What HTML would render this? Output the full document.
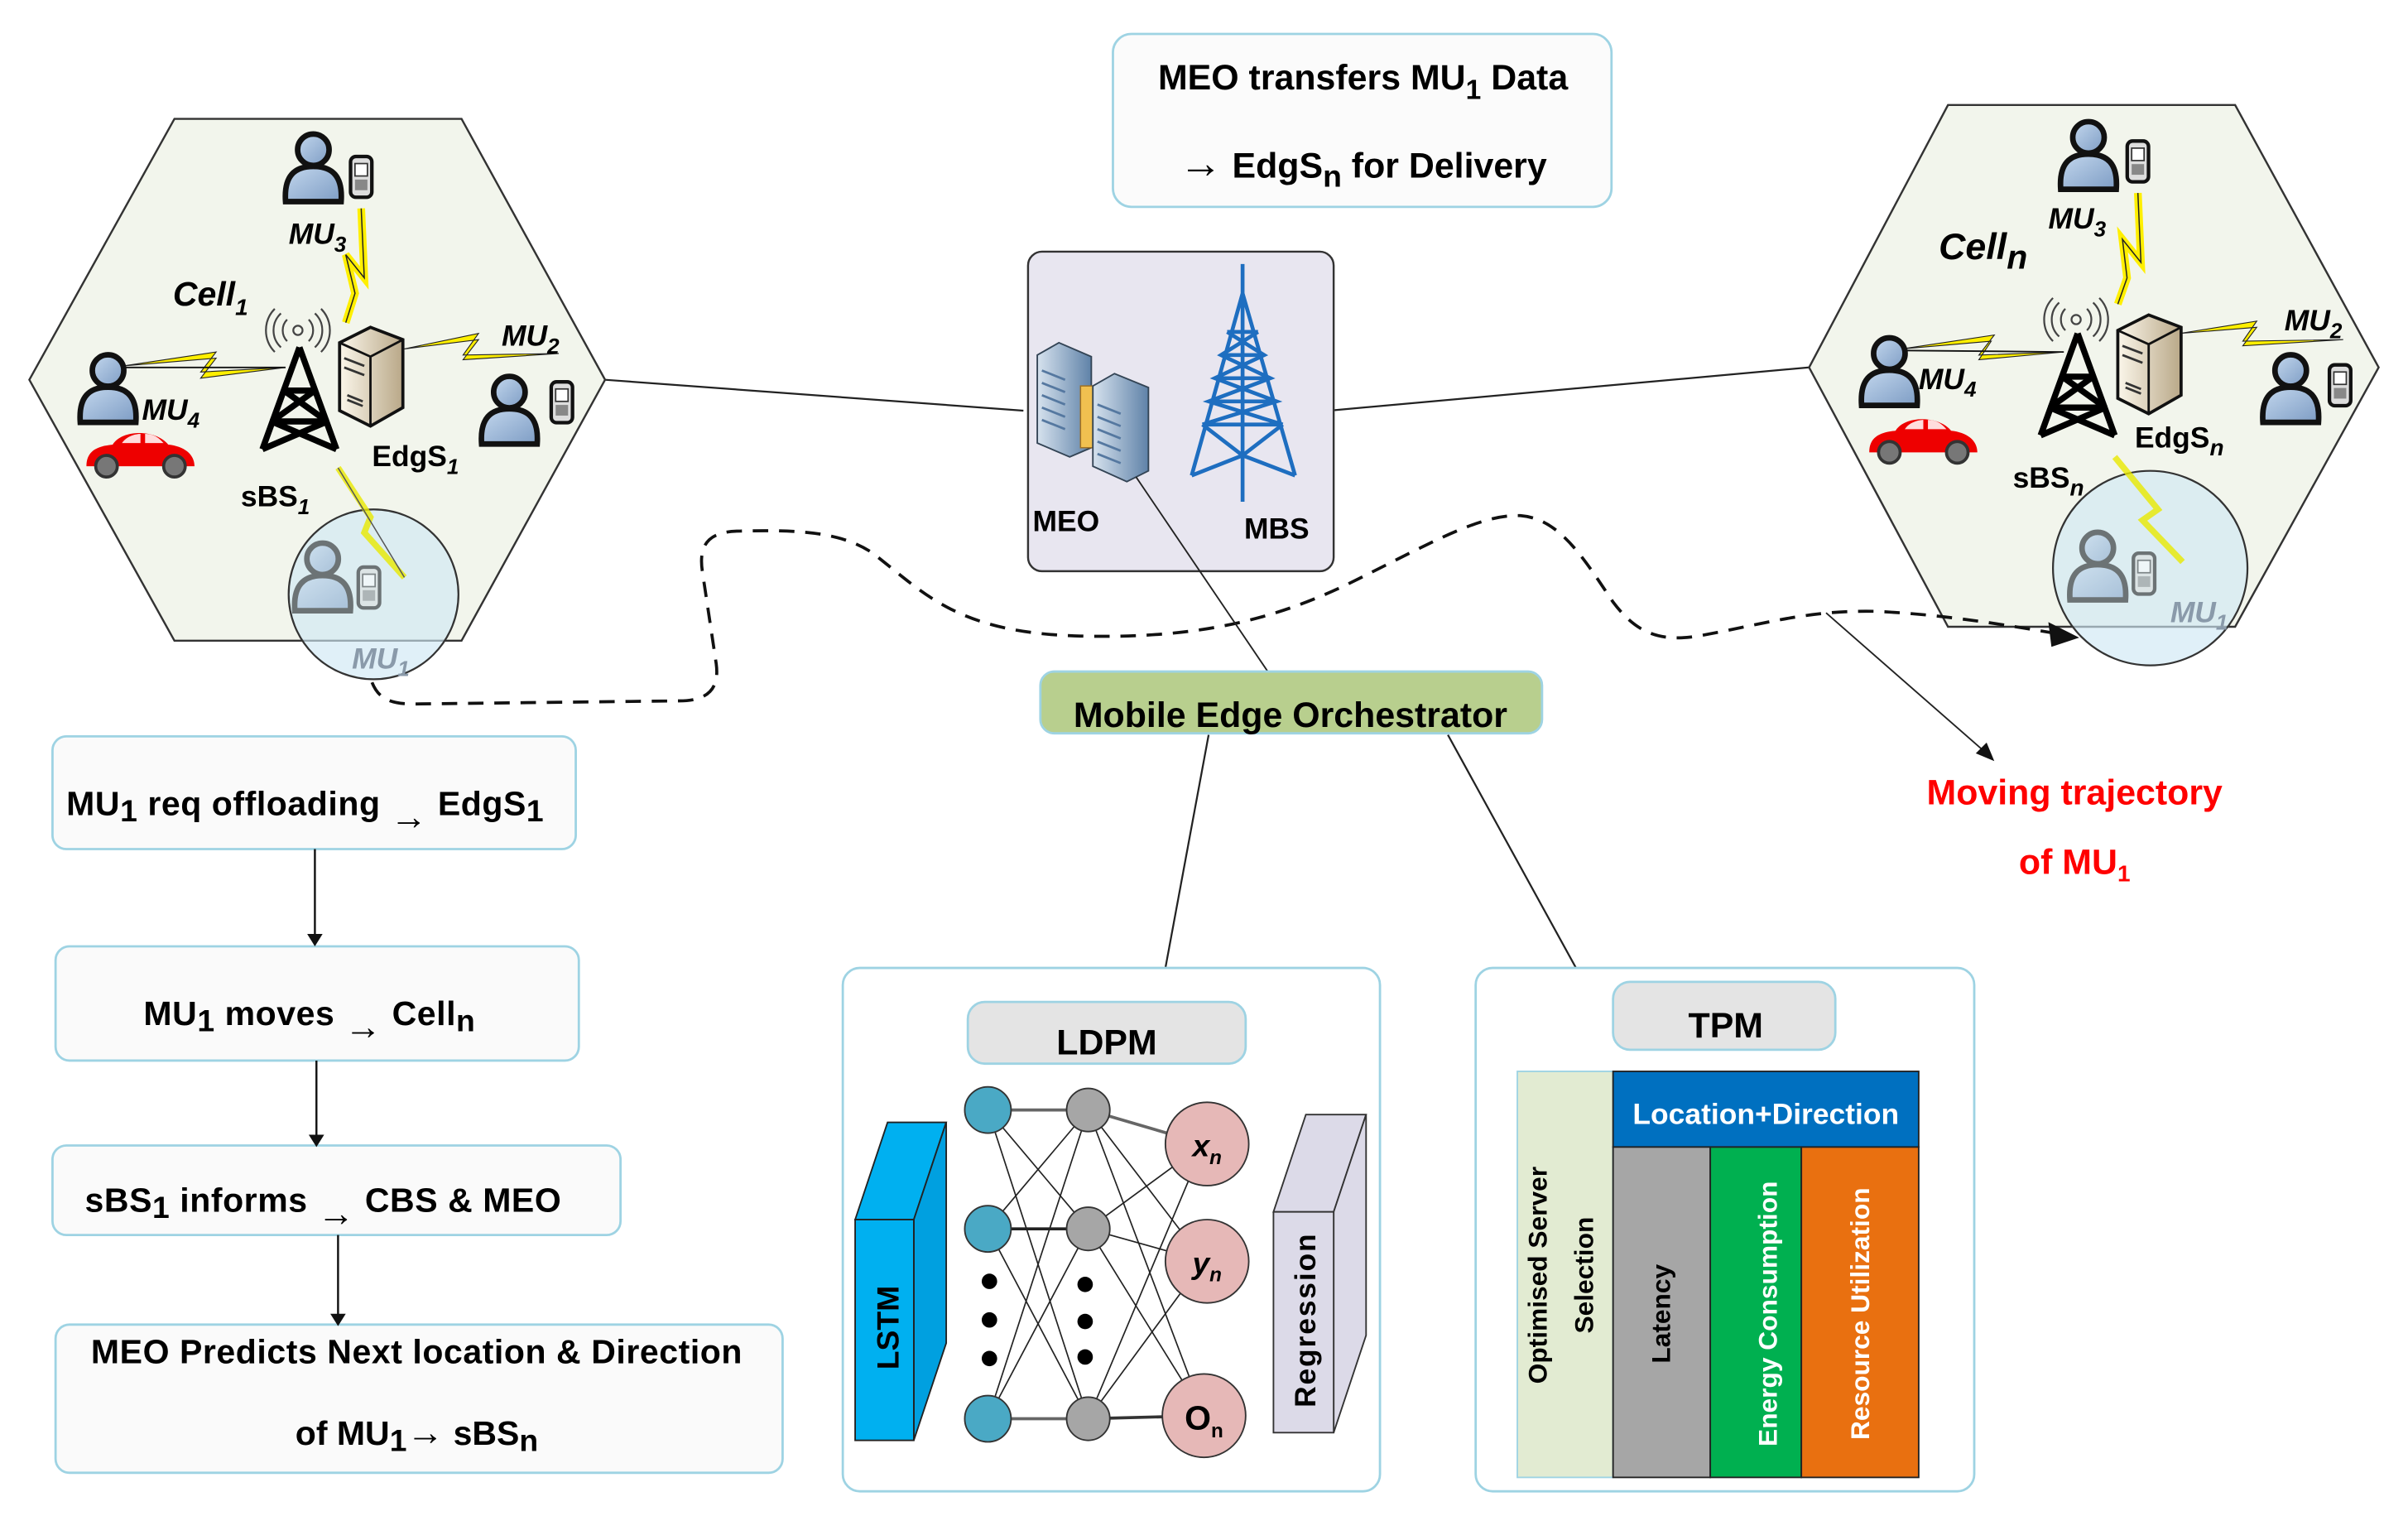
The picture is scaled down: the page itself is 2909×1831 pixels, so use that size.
<!DOCTYPE html>
<html><head><meta charset="utf-8"><style>
html,body{margin:0;padding:0;background:#fff;}
svg{display:block;}
text{font-family:"Liberation Sans",Arial,sans-serif;font-weight:bold;}
</style></head><body>
<svg width="2909" height="1831" viewBox="0 0 1560 982" preserveAspectRatio="none" xmlns="http://www.w3.org/2000/svg">
<defs>
<linearGradient id="pg" x1="0" y1="0" x2="1" y2="1"><stop offset="0" stop-color="#c4d8ee"/><stop offset="1" stop-color="#7d9cc4"/></linearGradient>
<linearGradient id="sg" x1="0" y1="0" x2="1" y2="0"><stop offset="0" stop-color="#fbf6ea"/><stop offset="1" stop-color="#b9a888"/></linearGradient>
<linearGradient id="bg" x1="0" y1="0" x2="1" y2="0"><stop offset="0" stop-color="#d6e2ee"/><stop offset="1" stop-color="#5f82a8"/></linearGradient>
<g id="person" transform="scale(1.2)"><path d="M-15,18 C-16,4 -10,-1 0,-1 C10,-1 16,4 15,18 Z" fill="url(#pg)" stroke="#111" stroke-width="3"/><circle cx="0" cy="-10" r="8.5" fill="url(#pg)" stroke="#111" stroke-width="3"/></g>
<g id="phone" transform="scale(1.15)"><rect x="-6" y="-11" width="12" height="23" rx="3" fill="#ddd" stroke="#111" stroke-width="2"/><rect x="-3.5" y="-7" width="7" height="7" fill="#fff" stroke="#333" stroke-width="0.8"/><rect x="-3.5" y="2" width="7" height="6" fill="#888"/></g>
<g id="tower" fill="none" stroke="#000" stroke-width="4"><path d="M0,-33 L-24,33 M0,-33 L24,33 M-10,-5 L10,-5 M-18,15 L18,15 M-10,-5 L18,15 M10,-5 L-18,15 M-18,15 L24,33 M18,15 L-24,33"/></g>
<g id="signal" fill="none" stroke="#444" stroke-width="1.2"><circle cx="0" cy="0" r="3"/><path d="M-7,-7 A10,10 0 0 0 -7,7 M7,-7 A10,10 0 0 1 7,7 M-11,-11 A15,15 0 0 0 -11,11 M11,-11 A15,15 0 0 1 11,11 M-15,-14 A20,20 0 0 0 -15,14 M15,-14 A20,20 0 0 1 15,14"/></g>
<g id="server"><path d="M-20,-22 L0,-32 L21,-24 L21,20 L0,32 L-20,22 Z" fill="url(#sg)" stroke="#111" stroke-width="2"/><path d="M-20,-22 L0,-13 L21,-24 M0,-13 L0,32" fill="none" stroke="#111" stroke-width="1.5"/><path d="M-17,-12 L-4,-7 M-17,-6 L-4,-1 M-15,12 L-5,16 M-15,15 L-5,19" stroke="#333" stroke-width="1.5"/></g>
<g id="car"><path d="M-35,8 C-35,-2 -28,-5 -18,-6 C-12,-16 10,-16 18,-6 C28,-5 35,0 35,8 Z" fill="#e00" /><path d="M-12,-7 C-8,-13 0,-13 0,-13 L0,-7 Z M3,-13 C10,-13 13,-9 15,-7 L3,-7 Z" fill="#fdd"/><circle cx="-22" cy="8" r="7" fill="#777" stroke="#333" stroke-width="2"/><circle cx="22" cy="8" r="7" fill="#777" stroke="#333" stroke-width="2"/></g>
</defs>

<line x1="392" y1="246" x2="663" y2="266" stroke="#222" stroke-width="1.2"/>
<line x1="861" y1="266" x2="1172" y2="238" stroke="#222" stroke-width="1.2"/>

<!-- Left hexagon -->
<polygon points="19,246 113,77 299,77 392,246 299,415 113,415" fill="#f2f5ec" stroke="#333" stroke-width="1.3"/>
<polygon points="80,237 140,232 130,245 185,238 130,241 140,228" fill="#ffef00" stroke="#222" stroke-width="0.6"/>
<line x1="80" y1="238" x2="185" y2="238" stroke="#111" stroke-width="1"/>
<polygon points="262,226 310,220 300,233 362,229 300,230 310,216" fill="#ffef00" stroke="#222" stroke-width="0.6"/>
<polyline points="234,135 236,180 224,165 230,190 224,209" fill="none" stroke="#ffef00" stroke-width="5"/>
<polyline points="234,135 236,180 224,165 230,190 224,209" fill="none" stroke="#222" stroke-width="0.8"/>
<use href="#person" x="203" y="109"/><use href="#phone" x="234" y="114"/>
<text x="187" y="158" font-size="19" font-style="italic">MU<tspan font-size="14" dy="5">3</tspan></text>
<text x="112" y="198" font-size="22" font-style="italic">Cell<tspan font-size="15" dy="6">1</tspan></text>
<use href="#signal" x="193" y="214"/>
<use href="#tower" x="194" y="258"/>
<use href="#server" x="240" y="244"/>
<text x="325" y="224" font-size="19" font-style="italic">MU<tspan font-size="14" dy="5">2</tspan></text>
<use href="#person" x="330" y="266"/><use href="#phone" x="364" y="260"/>
<use href="#person" x="70" y="252"/>
<text x="92" y="272" font-size="19" font-style="italic">MU<tspan font-size="14" dy="5">4</tspan></text>
<use href="#car" x="91" y="294"/>
<text x="241" y="302" font-size="19">EdgS<tspan font-size="14" dy="5" font-style="italic">1</tspan></text>
<text x="156" y="328" font-size="19">sBS<tspan font-size="14" dy="5" font-style="italic">1</tspan></text>
<circle cx="242" cy="385" r="55" fill="#cfe8f5" fill-opacity="0.65" stroke="#333" stroke-width="1.2"/>
<polyline points="219,303 240,335 236,345 262,374" fill="none" stroke="#e8e800" stroke-width="4" stroke-opacity="0.8"/>
<line x1="219" y1="303" x2="262" y2="374" stroke="#555" stroke-width="0.8"/>
<g opacity="0.55"><use href="#person" x="209" y="374"/><use href="#phone" x="239" y="380"/></g>
<text x="228" y="433" font-size="19" font-style="italic" fill="#8a9aaa">MU<tspan font-size="14" dy="5">1</tspan></text>

<!-- Right hexagon -->
<polygon points="1172,238 1262,68 1448,68 1541,238 1448,406 1262,406" fill="#f2f5ec" stroke="#333" stroke-width="1.3"/>
<polygon points="1232,226 1290,221 1282,233 1337,228 1282,230 1292,217" fill="#ffef00" stroke="#222" stroke-width="0.6"/>
<line x1="1232" y1="227" x2="1337" y2="228" stroke="#111" stroke-width="1"/>
<polygon points="1412,216 1462,212 1453,224 1518,220 1453,221 1462,208" fill="#ffef00" stroke="#222" stroke-width="0.6"/>
<polyline points="1385,125 1387,170 1375,155 1378,180 1372,197" fill="none" stroke="#ffef00" stroke-width="5"/>
<polyline points="1385,125 1387,170 1375,155 1378,180 1372,197" fill="none" stroke="#222" stroke-width="0.8"/>
<use href="#person" x="1353" y="101"/><use href="#phone" x="1385" y="104"/>
<text x="1327" y="148" font-size="19" font-style="italic">MU<tspan font-size="14" dy="5">3</tspan></text>
<text x="1256" y="168" font-size="24" font-style="italic">Cell<tspan font-size="22" dy="6">n</tspan></text>
<use href="#signal" x="1345" y="207"/>
<use href="#tower" x="1346" y="249"/>
<use href="#server" x="1392" y="236"/>
<text x="1480" y="214" font-size="19" font-style="italic">MU<tspan font-size="14" dy="5">2</tspan></text>
<use href="#person" x="1484" y="252"/><use href="#phone" x="1516" y="249"/>
<use href="#person" x="1224" y="241"/>
<text x="1243" y="252" font-size="19" font-style="italic">MU<tspan font-size="14" dy="5">4</tspan></text>
<use href="#car" x="1246" y="285"/>
<text x="1383" y="290" font-size="19">EdgS<tspan font-size="15" dy="5" font-style="italic">n</tspan></text>
<text x="1304" y="316" font-size="19">sBS<tspan font-size="15" dy="5" font-style="italic">n</tspan></text>
<circle cx="1393" cy="368" r="63" fill="#cfe8f5" fill-opacity="0.65" stroke="#333" stroke-width="1.2"/>
<polyline points="1370,296 1398,330 1388,337 1414,364" fill="none" stroke="#e8e800" stroke-width="4" stroke-opacity="0.8"/>
<g opacity="0.55"><use href="#person" x="1359" y="367"/><use href="#phone" x="1389" y="371"/></g>
<text x="1406" y="403" font-size="19" font-style="italic" fill="#8a9aaa">MU<tspan font-size="14" dy="5">1</tspan></text>

<!-- dashed trajectory -->
<path d="M241,442 C245,452 252,456 268,456 L440,454 C460,454 466,445 464,430 L455,370 C452,350 462,344 480,344 C520,343 545,345 565,358 C600,385 620,410 700,412 C780,414 830,400 880,375 C930,350 960,333 985,334 C1010,336 1025,360 1045,390 C1060,410 1075,416 1100,412 C1140,405 1170,395 1215,396 C1260,398 1300,405 1330,410" fill="none" stroke="#111" stroke-width="2" stroke-dasharray="10,7"/>
<polygon points="1347,413 1327,403 1329,419" fill="#111"/>
<line x1="1183" y1="397" x2="1287" y2="488" stroke="#222" stroke-width="1"/>
<polygon points="1292,493 1280,488 1287,481" fill="#111"/>
<text x="1344" y="521" font-size="23" fill="#f00" text-anchor="middle">Moving trajectory</text>
<text x="1344" y="566" font-size="23" fill="#f00" text-anchor="middle">of MU<tspan font-size="15" dy="5">1</tspan></text>

<!-- top box -->
<rect x="721" y="22" width="323" height="112" rx="12" fill="#fbfbfb" stroke="#9ed3e3" stroke-width="1.5"/>
<text x="883" y="58" font-size="23" text-anchor="middle">MEO transfers MU<tspan font-size="18" dy="6">1</tspan><tspan dy="-6"> Data</tspan></text>
<text x="883" y="115" font-size="23" text-anchor="middle"><tspan font-size="28">→</tspan> EdgS<tspan font-size="20" dy="6">n</tspan><tspan dy="-6"> for Delivery</tspan></text>

<!-- MEO/MBS box -->
<rect x="666" y="163" width="198" height="207" rx="9" fill="#e8e6f0" stroke="#333" stroke-width="1.3"/>
<path d="M672,230 L686,222 L707,231 L707,290 L693,296 L672,287 Z" fill="url(#bg)" stroke="#345" stroke-width="1"/>
<rect x="700" y="250" width="14" height="40" fill="#f0c050" stroke="#a07020" stroke-width="0.8"/>
<path d="M708,250 L722,242 L744,251 L744,305 L730,312 L708,302 Z" fill="url(#bg)" stroke="#345" stroke-width="1"/>
<g stroke="#5578a0" stroke-width="1.5"><path d="M675,240 L690,246 M675,248 L690,254 M675,256 L690,262 M675,264 L690,270 M675,272 L690,278 M711,262 L726,268 M711,270 L726,276 M711,278 L726,284 M711,286 L726,292 M711,294 L726,300"/></g>
<g fill="none" stroke="#1e6ec0" stroke-width="2.5"><path d="M805,171 L805,325 M805,190 L772,308 M805,190 L839,308 M772,308 L805,295 L839,308 M795,215 L815,215 M791,230 L819,230 M787,245 L823,245 M783,260 L827,260 M779,275 L831,275 M795,215 L819,230 L787,245 L827,260 L779,275 M815,215 L791,230 L823,245 L783,260 L831,275 M779,275 L805,295 L831,275"/></g>
<text x="669" y="344" font-size="19">MEO</text>
<text x="806" y="349" font-size="19">MBS</text>
<line x1="736" y1="309" x2="822" y2="436" stroke="#222" stroke-width="1"/>

<!-- Orchestrator -->
<rect x="674" y="435" width="325" height="40" rx="9" fill="#b8cf8e" stroke="#9ed3e3" stroke-width="1.5"/>
<text x="836" y="471" font-size="23" text-anchor="middle">Mobile Edge Orchestrator</text>
<line x1="783" y1="476" x2="755" y2="627" stroke="#222" stroke-width="1.2"/>
<line x1="938" y1="476" x2="1021" y2="627" stroke="#222" stroke-width="1.2"/>

<!-- LDPM -->
<rect x="546" y="627" width="348" height="339" rx="11" fill="#fff" stroke="#9ed3e3" stroke-width="1.5"/>
<rect x="627" y="649" width="180" height="40" rx="11" fill="#e4e4e4" stroke="#9ed3e3" stroke-width="1.5"/>
<text x="717" y="683" font-size="23" text-anchor="middle">LDPM</text>
<polygon points="554,790 575,727 613,727 592,790" fill="#00b0f0" stroke="#222" stroke-width="1"/>
<polygon points="592,790 613,727 613,870 592,933" fill="#00a0e0" stroke="#222" stroke-width="1"/>
<rect x="554" y="790" width="38" height="143" fill="#00b0f0" stroke="#222" stroke-width="1"/>
<text transform="translate(582,860) rotate(-90)" font-size="20" font-weight="normal" text-anchor="middle">LSTM</text>
<g stroke="#222" stroke-width="0.9">
<line x1="640" y1="719" x2="705" y2="719" stroke-width="2" stroke="#666"/><line x1="705" y1="719" x2="780" y2="741" stroke="#666" stroke-width="2"/>
<line x1="640" y1="796" x2="705" y2="796" stroke-width="2"/><line x1="640" y1="919" x2="705" y2="919" stroke-width="2" stroke="#666"/><line x1="705" y1="919" x2="780" y2="917" stroke-width="2" stroke="#333"/>
<line x1="640" y1="719" x2="705" y2="796"/><line x1="640" y1="719" x2="705" y2="919"/><line x1="640" y1="796" x2="705" y2="719"/><line x1="640" y1="796" x2="705" y2="919"/><line x1="640" y1="919" x2="705" y2="719"/><line x1="640" y1="919" x2="705" y2="796"/>
<line x1="705" y1="719" x2="780" y2="817"/><line x1="705" y1="719" x2="780" y2="917"/><line x1="705" y1="796" x2="780" y2="741"/><line x1="705" y1="796" x2="780" y2="817"/><line x1="705" y1="796" x2="780" y2="917"/><line x1="705" y1="919" x2="780" y2="741"/><line x1="705" y1="919" x2="780" y2="817"/>
</g>
<g fill="#4aa9c5" stroke="#333" stroke-width="1"><circle cx="640" cy="719" r="15"/><circle cx="640" cy="796" r="15"/><circle cx="640" cy="919" r="15"/></g>
<g fill="#a6a6a6" stroke="#333" stroke-width="1"><circle cx="705" cy="719" r="14"/><circle cx="705" cy="796" r="14"/><circle cx="705" cy="919" r="14"/></g>
<g fill="#e6b8b7" stroke="#333" stroke-width="1"><circle cx="782" cy="741" r="27"/><circle cx="782" cy="817" r="27"/><circle cx="780" cy="917" r="27"/></g>
<g fill="#000"><circle cx="641" cy="830" r="5"/><circle cx="641" cy="855" r="5"/><circle cx="641" cy="880" r="5"/><circle cx="703" cy="832" r="5"/><circle cx="703" cy="856" r="5"/><circle cx="703" cy="879" r="5"/></g>
<text x="782" y="749" font-size="20" font-weight="normal" font-style="italic" text-anchor="middle">x<tspan font-size="13" dy="5">n</tspan></text>
<text x="782" y="825" font-size="20" font-weight="normal" font-style="italic" text-anchor="middle">y<tspan font-size="13" dy="5">n</tspan></text>
<text x="780" y="926" font-size="22" font-weight="normal" text-anchor="middle">O<tspan font-size="13" dy="5">n</tspan></text>
<polygon points="825,785 846,722 885,722 864,785" fill="#dcdae8" stroke="#333" stroke-width="1"/>
<polygon points="864,785 885,722 885,865 864,928" fill="#dcdae8" stroke="#333" stroke-width="1"/>
<rect x="825" y="785" width="39" height="143" fill="#dcdae8" stroke="#333" stroke-width="1"/>
<text transform="translate(852,855) rotate(-90)" font-size="19" font-weight="normal" text-anchor="middle" letter-spacing="1">Regression</text>

<!-- TPM -->
<rect x="956" y="627" width="323" height="339" rx="11" fill="#fff" stroke="#9ed3e3" stroke-width="1.5"/>
<rect x="1045" y="636" width="144" height="44" rx="11" fill="#e4e4e4" stroke="#9ed3e3" stroke-width="1.5"/>
<text x="1118" y="672" font-size="23" text-anchor="middle">TPM</text>
<rect x="983" y="694" width="62" height="263" fill="#e2ebd2" stroke="#9ed3e3" stroke-width="1"/>
<rect x="1045" y="694" width="198" height="49" fill="#0070c0" stroke="#222" stroke-width="1"/>
<text x="1144" y="728" font-size="19" fill="#fff" text-anchor="middle">Location+Direction</text>
<rect x="1045" y="743" width="63" height="214" fill="#a6a6a6" stroke="#222" stroke-width="1"/>
<rect x="1108" y="743" width="59" height="214" fill="#00b050" stroke="#222" stroke-width="1"/>
<rect x="1167" y="743" width="76" height="214" fill="#e97010" stroke="#222" stroke-width="1"/>
<text transform="translate(1002,826) rotate(-90)" font-size="17" text-anchor="middle">Optimised Server</text>
<text transform="translate(1032,826) rotate(-90)" font-size="17" text-anchor="middle">Selection</text>
<text transform="translate(1082,851) rotate(-90)" font-size="17" text-anchor="middle">Latency</text>
<text transform="translate(1151,851) rotate(-90)" font-size="17" fill="#fff" text-anchor="middle">Energy Consumption</text>
<text transform="translate(1211,851) rotate(-90)" font-size="17" fill="#fff" text-anchor="middle">Resource Utilization</text>

<!-- left flowchart -->
<g fill="#fafafa" stroke="#9ed3e3" stroke-width="1.5">
<rect x="34" y="477" width="339" height="73" rx="9"/>
<rect x="36" y="613" width="339" height="74" rx="9"/>
<rect x="34" y="742" width="368" height="58" rx="9"/>
<rect x="36" y="858" width="471" height="96" rx="9"/>
</g>
<text x="43" y="528" font-size="22" letter-spacing="0.3">MU<tspan font-size="20" dy="4">1</tspan><tspan dy="-4"> req offloading </tspan><tspan font-size="24" dy="9">→</tspan><tspan dy="-9"> EdgS</tspan><tspan font-size="20" dy="4">1</tspan></text>
<text x="93" y="664" font-size="22" letter-spacing="0.3">MU<tspan font-size="20" dy="4">1</tspan><tspan dy="-4"> moves </tspan><tspan font-size="24" dy="9">→</tspan><tspan dy="-9"> Cell</tspan><tspan font-size="20" dy="4">n</tspan></text>
<text x="55" y="785" font-size="22" letter-spacing="0.3">sBS<tspan font-size="20" dy="4">1</tspan><tspan dy="-4"> informs </tspan><tspan font-size="24" dy="9">→</tspan><tspan dy="-9">  CBS &amp; MEO</tspan></text>
<text x="270" y="883" font-size="22" text-anchor="middle" letter-spacing="0.3">MEO Predicts Next location &amp; Direction</text>
<text x="270" y="936" font-size="22" text-anchor="middle">of MU<tspan font-size="20" dy="4">1</tspan><tspan dy="-4" font-size="24">→</tspan><tspan> sBS</tspan><tspan font-size="20" dy="4">n</tspan></text>
<g stroke="#111" stroke-width="1.3"><line x1="204" y1="550" x2="204" y2="606"/><line x1="205" y1="687" x2="205" y2="736"/><line x1="219" y1="800" x2="219" y2="852"/></g>
<g fill="#111"><polygon points="199,605 209,605 204,613"/><polygon points="200,735 210,735 205,743"/><polygon points="214,851 224,851 219,859"/></g>
</svg>
</body></html>
